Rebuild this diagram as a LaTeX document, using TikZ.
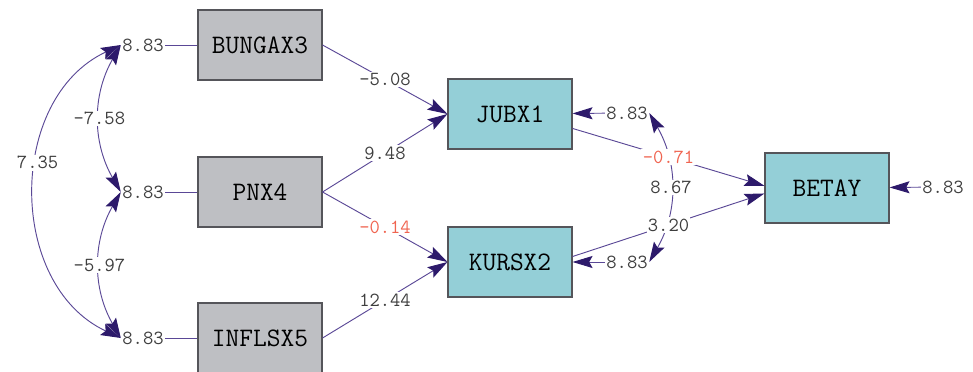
\documentclass[tikz,border=0pt]{standalone}
\usepackage{fontspec}
\usepackage{tikz}
\usetikzlibrary{
    arrows.meta
}
\definecolor{xfill}{RGB}{190,191,195}
\definecolor{yfill}{RGB}{148,207,215}
\definecolor{boxline}{RGB}{85,85,90}
\definecolor{linkcol}{RGB}{90,72,150}
\definecolor{tipcol}{RGB}{45,26,107}
\definecolor{valtext}{RGB}{62,62,62}
\definecolor{negred}{RGB}{240,100,80}

\begin{document}
\begin{tikzpicture}[x=0.75pt, y=0.75pt,
    xvar/.style={draw=boxline, fill=xfill, line width=0.8pt, minimum width=93pt,
        minimum height=52.5pt, inner sep=0pt, font=\fontsize{20}{21}\ttfamily},
    yvar/.style={xvar, fill=yfill},
    val/.style={font=\fontsize{15}{16}\ttfamily, text=valtext, inner sep=1pt},
    coef/.style={val, fill=white},
    negcoef/.style={coef, text=negred},
    link/.style={draw=linkcol, line width=0.7pt},
    arr/.style={link, -{Stealth[length=15pt, width=9pt, inset=2.5pt, color=tipcol]}},
    cov/.style={link, {Stealth[length=15pt, width=9pt, inset=2.5pt, color=tipcol]}-{Stealth[length=15pt, width=9pt, inset=2.5pt, color=tipcol]}}
]
                        \useasboundingbox (0,0) rectangle (973,-371);
                        \node[xvar] (bungax3) at (260,-45) {BUNGAX3};
                        \node[xvar] (pnx4) at (260,-192) {PNX4};
                        \node[xvar] (inflsx5) at (260,-338) {INFLSX5};
                        \node[yvar] (jubx1) at (510,-114) {JUBX1};
                        \node[yvar] (kursx2) at (510,-262) {KURSX2};
                        \node[yvar] (betay) at (827,-188) {BETAY};
                        \node[val] (ebungax3) at (143,-45) {8.83};
                        \node[val] (epnx4) at (143,-192) {8.83};
                        \node[val] (einflsx5) at (143,-338) {8.83};
                        \node[val] (ejubx1) at (627,-113) {8.83};
                        \node[val] (ekursx2) at (627,-262) {8.83};
                        \node[val] (ebetay) at (943,-187) {8.83};
                        \draw
                        (ebungax3) edge[link] (bungax3)
                        (epnx4) edge[link] (pnx4)
                        (einflsx5) edge[link] (inflsx5)
                        (ejubx1) edge[arr] (jubx1)
                        (ekursx2) edge[arr] (kursx2)
                        (ebetay) edge[arr] (betay)
                        (ebungax3.west) edge[cov, out=-120, in=120] node[coef]{-7.58} (epnx4.west)
                        (epnx4.west) edge[cov, out=-120, in=120] node[coef]{-5.97} (einflsx5.west)
                        (ebungax3.west) edge[cov, out=-155, in=155, looseness=1.1] node[coef, pos=0.42]{7.35} (einflsx5.west)
                        (ejubx1.east) edge[cov, out=-60, in=60] node[coef]{8.67} (ekursx2.east)
                        (bungax3.east) edge[arr] node[coef]{-5.08} (jubx1.west)
                        (pnx4.east) edge[arr] node[coef]{9.48} (jubx1.west)
                        (pnx4.east) edge[arr] node[negcoef]{-0.14} (kursx2.west)
                        (inflsx5.east) edge[arr] node[coef]{12.44} (kursx2.west)
                        (jubx1.-13) edge[arr] node[negcoef]{-0.71} (betay.178)
                        (kursx2.5) edge[arr] node[coef]{3.20} (betay.185);
                    \end{tikzpicture}
\end{document}
